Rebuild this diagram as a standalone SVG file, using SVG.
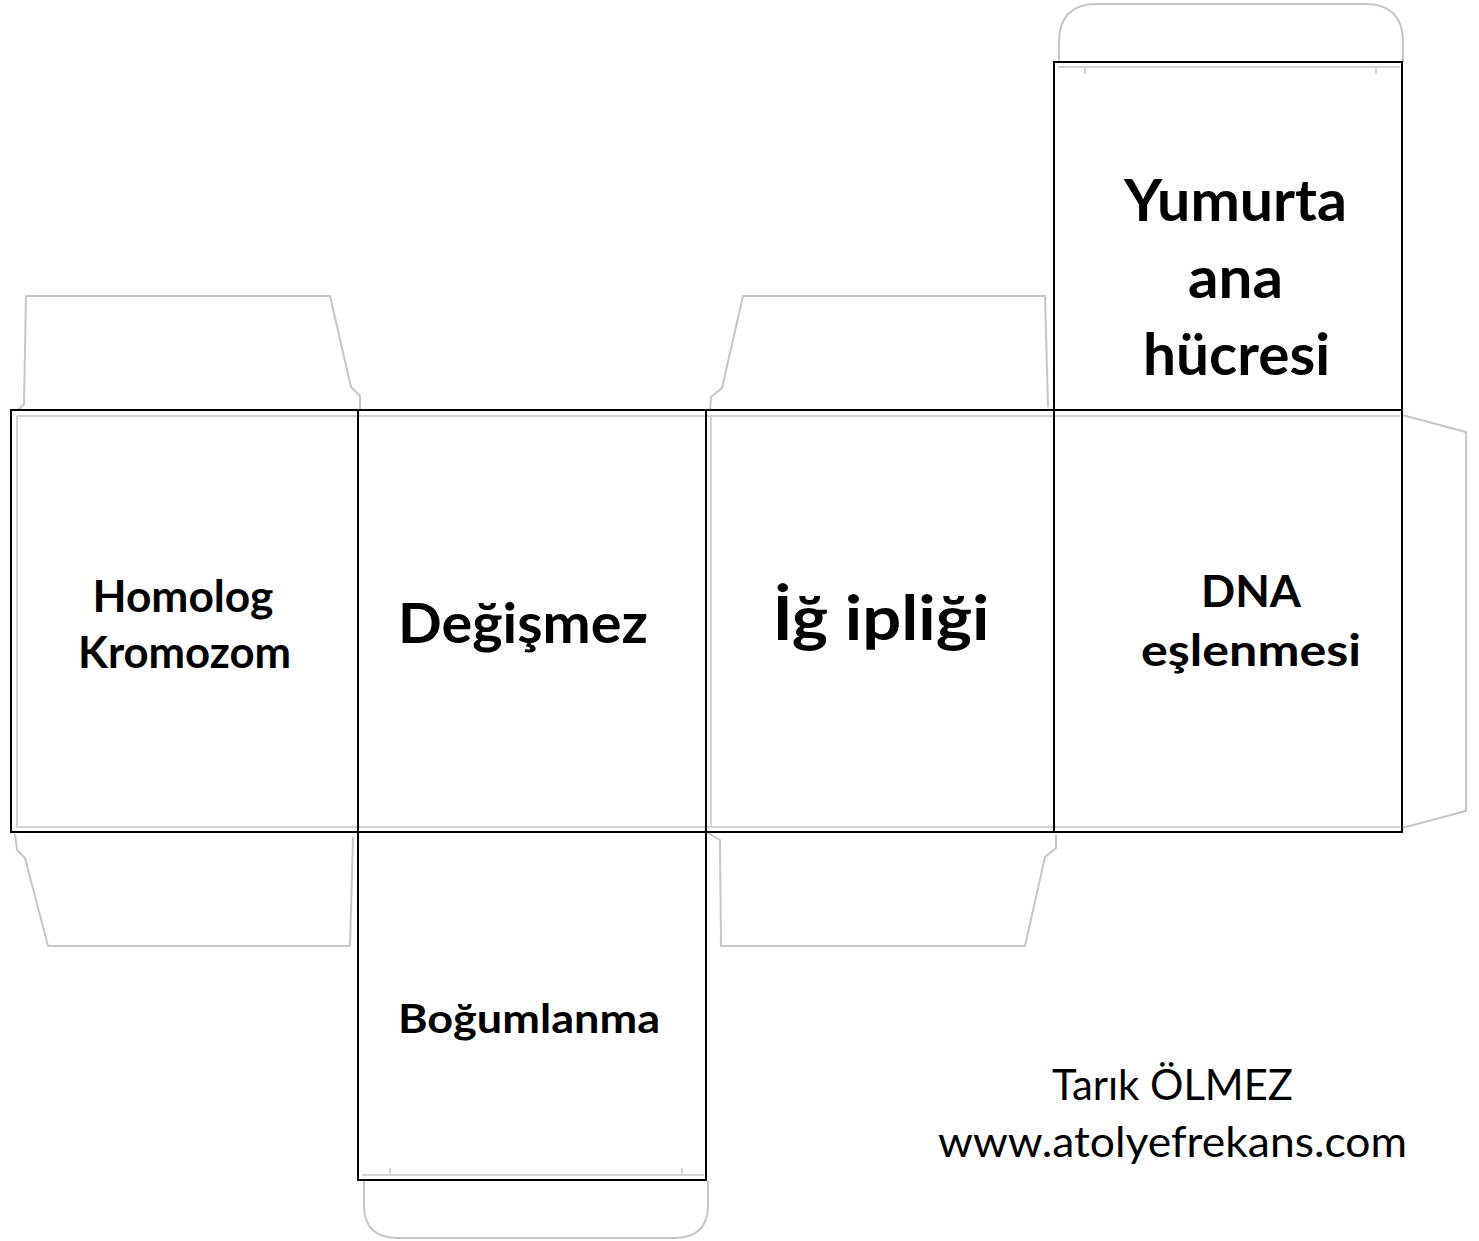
<svg xmlns="http://www.w3.org/2000/svg" width="1479" height="1241" viewBox="0 0 1479 1241">
<style>
.flap{fill:none;stroke:#c6c6c8;stroke-width:2;stroke-linejoin:round}
.inner{fill:none;stroke:#d4d4d6;stroke-width:2}
.face{fill:none;stroke:#000;stroke-width:2}
.lbl{font-family:Lato,"Open Sans","Liberation Sans",sans-serif;font-weight:bold;fill:#000;text-anchor:middle}
.credit{font-family:Lato,"Open Sans","Liberation Sans",sans-serif;font-size:42px;fill:#000;text-anchor:middle}
</style>
<rect width="1479" height="1241" fill="#fff"/>
<g id="flaps">
<path class="flap" d="M18,410 L24,404 L26,296 L330,296 L351,387 L360,396 L360,410"/>
<path class="flap" d="M710,410 L711,397 L722,388 L743,296 L1045,296 L1048,407"/>
<path class="flap" d="M1059,62 L1059,42 Q1059,4 1097,4 L1365,4 Q1403,4 1403,42 L1403,62"/>
<path class="flap" d="M1402,415 L1466,432 L1466,811 L1402,828"/>
<path class="flap" d="M15,834 L17,850 L25,858 L48,946 L350,946 L353,837"/>
<path class="flap" d="M708,833 L720,840 L721,946 L1025,946 L1045,857 L1056,848 L1056,835"/>
<path class="flap" d="M364,1181 L364,1205 Q364,1238 398,1238 L674,1238 Q708,1238 708,1205 L708,1181"/>
<path class="inner" d="M17,416 L1400,416 M17,416 L17,827 L1400,827 M711,416 L711,827"/>
<path class="inner" d="M1058,67 L1400,67 M1085,67 L1085,74 M1376,67 L1376,74"/>
<path class="inner" d="M362,1175 L704,1175 M390,1175 L390,1168 M682,1175 L682,1168"/>
</g>
<g id="connectors"></g>
<g id="face-homolog">
<rect class="face" x="11" y="410" width="347" height="422"/>
<text class="lbl" font-size="43" x="183" y="612" textLength="181" lengthAdjust="spacingAndGlyphs">Homolog</text>
<text class="lbl" font-size="43" x="184.5" y="668" textLength="213" lengthAdjust="spacingAndGlyphs">Kromozom</text>
</g>
<g id="face-degismez">
<rect class="face" x="358" y="410" width="348" height="422"/>
<text class="lbl" font-size="55" x="523" y="643" textLength="250" lengthAdjust="spacingAndGlyphs">Değişmez</text>
</g>
<g id="face-ig">
<rect class="face" x="706" y="410" width="348" height="422"/>
<text class="lbl" font-size="61" x="881" y="640" textLength="217" lengthAdjust="spacingAndGlyphs">İğ ipliği</text>
</g>
<g id="face-dna">
<rect class="face" x="1054" y="410" width="348" height="422"/>
<text class="lbl" font-size="44" x="1251" y="607" textLength="100" lengthAdjust="spacingAndGlyphs">DNA</text>
<text class="lbl" font-size="44" x="1251" y="666" textLength="220" lengthAdjust="spacingAndGlyphs">eşlenmesi</text>
</g>
<g id="face-yumurta">
<rect class="face" x="1054" y="62" width="348" height="348"/>
<text class="lbl" font-size="58" x="1235.5" y="221" textLength="223" lengthAdjust="spacingAndGlyphs">Yumurta</text>
<text class="lbl" font-size="58" x="1235.5" y="298" textLength="95" lengthAdjust="spacingAndGlyphs">ana</text>
<text class="lbl" font-size="58" x="1236.5" y="375" textLength="187" lengthAdjust="spacingAndGlyphs">hücresi</text>
</g>
<g id="face-bogumlanma">
<rect class="face" x="358" y="832" width="348" height="348"/>
<text class="lbl" font-size="40" x="529" y="1033" textLength="262" lengthAdjust="spacingAndGlyphs">Boğumlanma</text>
</g>
<g id="credit">
<text class="credit" x="1172.5" y="1100" textLength="241" lengthAdjust="spacingAndGlyphs">Tarık ÖLMEZ</text>
<text class="credit" x="1172.5" y="1157" textLength="469" lengthAdjust="spacingAndGlyphs">www.atolyefrekans.com</text>
</g>
</svg>
